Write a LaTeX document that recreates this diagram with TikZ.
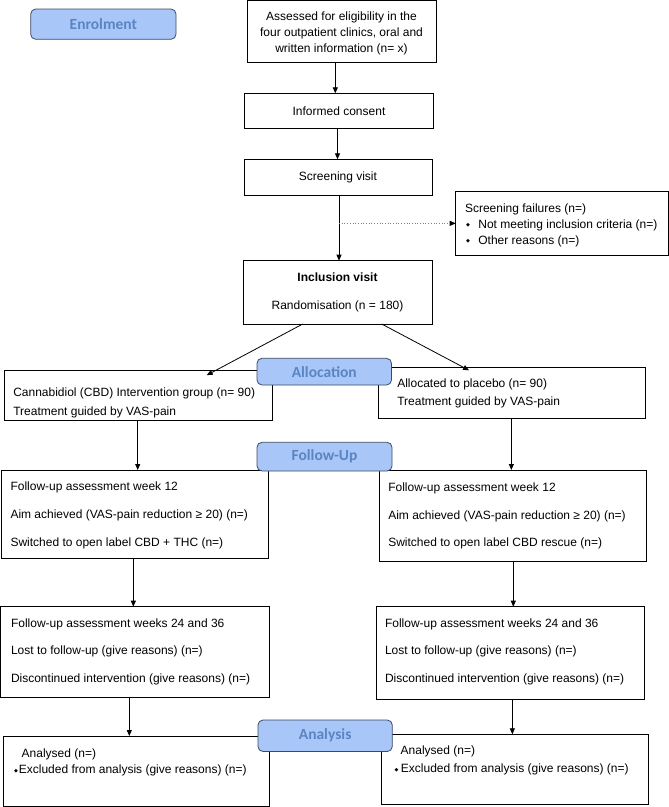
\documentclass[tikz,border=0pt]{standalone}
\usepackage{fontspec}
\setmainfont{Liberation Sans}
\newfontfamily\carlito{Carlito}
\newfontfamily\dejavu{DejaVu Sans}
\usetikzlibrary{arrows.meta,fit}
\definecolor{lblue}{RGB}{168,198,247}
\definecolor{ltext}{RGB}{90,132,196}
\definecolor{lborder}{RGB}{60,74,102}
\newcommand{\bul}{\raisebox{1.3pt}{\dejavu\fontsize{5}{5}\selectfont ◆}}
\tikzset{
  box/.style={draw=black, line width=0.8pt, inner sep=0pt, outer sep=0pt, fill=white},
  lbl/.style={draw=lborder, line width=0.8pt, fill=lblue, rounded corners=5pt, inner sep=0pt, outer sep=0pt,
    text=ltext, font=\carlito\bfseries\fontsize{15.5}{18}\selectfont},
  txt/.style={inner sep=0pt, outer sep=0pt, align=left},
  arr/.style={line width=0.8pt, -{Triangle[length=6pt,width=5pt]}},
  dotarr/.style={line width=0.7pt, gray, dotted, arrows={-{Triangle[length=6pt,width=5pt,black]}}}
}
\begin{document}
\begin{tikzpicture}[x=1pt,y={(0pt,-1pt)}]
\useasboundingbox (0,0) rectangle (669,807);
% boxes
\node[box, fit={(247,0.5) (436,62)}] (b1) {};
\node[box, fit={(244.5,93.3) (433.5,128.7)}] (consent) {};
\node[box, fit={(244,159.3) (432,195)}] (screen) {};
\node[box, fit={(455.7,191.7) (668,255)}] (fail) {};
\node[box, fit={(243,260.7) (432,324)}] (incl) {};
\node[box, fit={(4.7,370.7) (272.7,420)}] (cbd) {};
\node[box, fit={(378,367.3) (645.7,418.3)}] (plac) {};
\node[box, fit={(1,470) (268.7,558.3)}] (fuL) {};
\node[box, fit={(379.7,470) (646.3,561.7)}] (fuR) {};
\node[box, fit={(0.7,606.7) (269.3,697.7)}] (fuL2) {};
\node[box, fit={(376.3,606.7) (644,699.3)}] (fuR2) {};
\node[box, fit={(3.3,736) (269.3,806)}] (anL) {};
\node[box, fit={(381.7,734.3) (648.3,804.3)}] (anR) {};
% texts
\node[txt, align=center, font=\fontsize{12}{16.2}\selectfont] (t1) at (341.5,33.5)
  {Assessed for eligibility in the\\four outpatient clinics, oral and\\written information (n= x)};
\node[txt, font=\fontsize{12}{14}\selectfont] (t2) at (339,111) {Informed consent};
\node[txt, font=\fontsize{12}{14}\selectfont] (t3) at (338,177) {Screening visit};
\node[txt, align=center, font=\fontsize{12}{28.4}\selectfont] (t4) at (337.5,292.3)
  {\textbf{Inclusion visit}\\Randomisation (n = 180)};
\node[txt, anchor=west, font=\fontsize{12}{15.9}\selectfont] (t5) at (465,225)
  {Screening failures (n=)\\\hspace*{1pt}\bul\hspace{8.5pt}Not meeting inclusion criteria (n=)\\\hspace*{1pt}\bul\hspace{8.5pt}Other reasons (n=)};
\node[txt, anchor=west, font=\fontsize{12}{18.7}\selectfont] (t6) at (13.3,403)
  {Cannabidiol (CBD) Intervention group (n= 90)\\Treatment guided by VAS-pain};
\node[txt, anchor=west, font=\fontsize{12}{18.4}\selectfont] (t7) at (397.3,393.3)
  {Allocated to placebo (n= 90)\\Treatment guided by VAS-pain};
\node[txt, anchor=west, font=\fontsize{12}{27.8}\selectfont] (t8) at (10.5,515.3)
  {Follow-up assessment week 12\\Aim achieved (VAS-pain reduction \char"2265{} 20) (n=)\\Switched to open label CBD + THC (n=)};
\node[txt, anchor=west, font=\fontsize{12}{27.4}\selectfont] (t9) at (388.3,516)
  {Follow-up assessment week 12\\Aim achieved (VAS-pain reduction \char"2265{} 20) (n=)\\Switched to open label CBD rescue (n=)};
\node[txt, anchor=west, font=\fontsize{12}{27.5}\selectfont] (t10) at (11,651.6)
  {Follow-up assessment weeks 24 and 36\\Lost to follow-up (give reasons) (n=)\\Discontinued intervention (give reasons) (n=)};
\node[txt, anchor=west, font=\fontsize{12}{27.6}\selectfont] (t11) at (385,651.7)
  {Follow-up assessment weeks 24 and 36\\Lost to follow-up (give reasons) (n=)\\Discontinued intervention (give reasons) (n=)};
\node[txt, anchor=west, font=\fontsize{12}{16.7}\selectfont] (t12) at (14,762.5)
  {\hspace*{7.7pt}Analysed (n=)\\\bul\hspace{1pt}Excluded from analysis (give reasons) (n=)};
\node[txt, anchor=west, font=\fontsize{12}{18}\selectfont] (t13) at (394.7,760.8)
  {\hspace*{6pt}Analysed (n=)\\\bul\hspace{2.4pt}Excluded from analysis (give reasons) (n=)};
% connectors
\draw[arr] ([xshift=-6.2pt]b1.south) -- ([xshift=-6.2pt]b1.south |- consent.north);
\draw[arr] ([xshift=-1.5pt]consent.south) -- ([xshift=-1.5pt]consent.south |- screen.north);
\draw[arr] ([xshift=1pt]screen.south) -- ([xshift=1pt]screen.south |- incl.north);
\coordinate (dj) at ([xshift=1pt]screen.south |- fail.west);
\draw[dotarr] (dj) -- (fail.west);
\draw[arr] ([xshift=-34.8pt]incl.south) -- ([xshift=68pt,yshift=-4.5pt]cbd.north);
\draw[arr] ([xshift=44.2pt]incl.south) -- ([xshift=-42.8pt,yshift=-3pt]plac.north);
\draw[arr] ([xshift=-1pt]cbd.south) -- ([xshift=-1pt]cbd.south |- fuL.north);
\draw[arr] ([xshift=-0.5pt]plac.south) -- ([xshift=-0.5pt]plac.south |- fuR.north);
\draw[arr] ([xshift=-1.5pt]fuL.south) -- ([xshift=-1.5pt]fuL.south |- fuL2.north);
\draw[arr] ([xshift=0.3pt]fuR.south) -- ([xshift=0.3pt]fuR.south |- fuR2.north);
\draw[arr] ([xshift=-5.7pt]fuL2.south) -- ([xshift=-5.7pt]fuL2.south |- anL.north);
\draw[arr] ([xshift=2.2pt]fuR2.south) -- ([xshift=2.2pt]fuR2.south |- anR.north);
% stage labels
\node[lbl, minimum width=145.3pt, minimum height=30.3pt] (enrol) at (103.35,24.15) {Enrolment};
\node[lbl, minimum width=134.5pt, minimum height=26.7pt] (alloc) at (324.25,371.65) {Allocation};
\node[lbl, minimum width=135pt, minimum height=28.7pt] (fu) at (324.5,456.65) {Follow-Up};
\node[lbl, minimum width=134.3pt, minimum height=31.5pt] (anal) at (325.15,735.75) {Analysis};
\end{tikzpicture}
\end{document}
